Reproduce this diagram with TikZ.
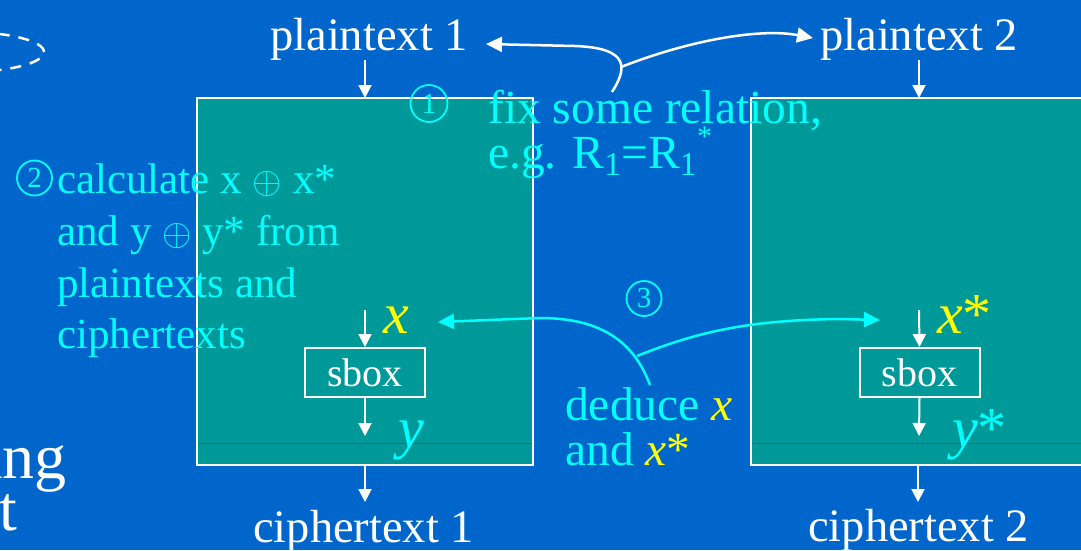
\RequirePackage{fix-cm}
\documentclass[tikz,border=0pt]{standalone}
\usepackage{fontspec}
\setmainfont{Liberation Serif}
\usetikzlibrary{arrows.meta}
\definecolor{bgblue}{HTML}{0066CC}
\definecolor{boxteal}{HTML}{009999}
\definecolor{cyanT}{HTML}{00FFFF}
\definecolor{yel}{HTML}{FFFF00}
\newcommand{\xor}{\scalebox{1.35}{\fontsize{28}{28}\selectfont$\oplus$}}
\begin{document}
\begin{tikzpicture}[x=1pt,y=-1pt,
  lbl/.style={inner sep=0pt, anchor=base west, text=white, font=\fontsize{46.5}{55}\selectfont},
  ctext/.style={lbl, text=cyanT, font=\fontsize{47.5}{55}\selectfont},
  side/.style={lbl, text=cyanT, font=\fontsize{43}{50}\selectfont},
  circ/.style={circle, draw=cyanT, line width=1.8pt, text=cyanT, inner sep=0pt,
    minimum size=35pt, font=\fontsize{29}{29}\selectfont},
  var/.style={inner sep=0pt, anchor=base west, font=\fontsize{58}{60}\selectfont\itshape},
  encbox/.style={fill=boxteal, draw=white, line width=2pt},
  sboxnode/.style={draw=white, line width=2pt, minimum width=120pt, minimum height=49pt,
    inner sep=0pt, text=white, font=\fontsize{40}{48}\selectfont},
  arr/.style={draw=white, line width=2pt, -{Triangle[width=13pt,length=13pt]}},
  warr/.style={draw=white, line width=2.5pt, -{Triangle[width=15pt,length=16pt]}},
  carr/.style={draw=cyanT, line width=2.5pt, -{Triangle[width=15pt,length=16pt]}},
  sep/.style={draw=bgblue, line width=0.8pt}]
\useasboundingbox (0,0) rectangle (1081,550);
\clip (0,0) rectangle (1081,550);
\fill[bgblue] (0,0) rectangle (1081,550);

% leftovers at the slide edge
\draw[white, line width=2.5pt, dash pattern=on 11pt off 9pt] (-35,52) ellipse [x radius=79pt, y radius=20pt];
\node[lbl, anchor=base east, font=\fontsize{64}{64}\selectfont] (ng) at (67,478) {ing};
\node[lbl, anchor=base east, font=\fontsize{64}{64}\selectfont] (tt) at (17,530) {t};

% the two encryption boxes
\path[encbox] (197,98) rectangle (533,465);
\path[encbox] (751,98) rectangle (1095,465);
\coordinate (b1n) at (365,98);  \coordinate (b1s) at (365,466);
\coordinate (b2n) at (919,98);  \coordinate (b2s) at (918,466);
\draw[sep] (198,443) -- (532,443);
\draw[sep] (752,443) -- (1095,443);

% plaintexts and ciphertexts
\node[lbl] (p1) at (270,50) {plaintext 1};
\node[lbl] (p2) at (820,50) {plaintext 2};
\node[lbl] (c1) at (253,542) {ciphertext 1};
\node[lbl] (c2) at (808,541) {ciphertext 2};
\coordinate (p1a) at (365,60);
\coordinate (p2a) at (919,60);
\coordinate (c1a) at (365,502);
\coordinate (c2a) at (918,502);
\draw[arr] (p1a) -- (b1n);
\draw[arr] (p2a) -- (b2n);
\draw[arr] (b1s) -- (c1a);
\draw[arr] (b2s) -- (c2a);

% sboxes
\node[sboxnode] (s1) at (365,372.5) {sbox};
\node[sboxnode] (s2) at (919.5,372.5) {sbox};
\coordinate (s1in) at (365,310);  \coordinate (s1out) at (365,436);
\coordinate (s2in) at (919,310);  \coordinate (s2out) at (919,436);
\draw[arr] (s1in) -- (s1.north);
\draw[arr] (s1.south) -- (s1out);
\draw[arr] (s2in) -- (s2.north);
\draw[arr] (s2.south) -- (s2out);
\node[var, text=yel] (x1) at (383,333) {x};
\node[var, text=cyanT] (y1) at (398,447) {y};
\node[var, text=yel] (x2) at (937,333) {x\upshape*};
\node[var, text=cyanT] (y2) at (952,447) {y\upshape*};

% step 1
\node[circ, minimum size=37pt] (n1) at (429,103.5) {1};
\node[ctext] (f1) at (488,123) {fix some relation,};
\node[ctext] (f2) at (488,168) {e.g. R\textsubscript{1}=R\textsubscript{1}\raisebox{0.45em}{\fontsize{30}{30}\selectfont *}};
\coordinate (st1) at (612,92);
\coordinate (br1) at (621,67);
\coordinate (t1) at (486,44);
\coordinate (t2) at (813,38);
\draw[warr] (st1) .. controls (626,70) and (632,48) .. (575,46) -- (t1);
\draw[warr] (br1) .. controls (690,40) and (760,28) .. (t2);

% step 2
\node[circ] (n2) at (34.5,178) {2};
\node[side] (l1) at (57,193) {calculate x \xor{} x*};
\node[side] (l2) at (57,245) {and y \xor{} y* from};
\node[side] (l3) at (57,297) {plaintexts and};
\node[side] (l4) at (57,348) {ciphertexts};

% step 3
\node[circ] (n3) at (644,298.5) {3};
\node[ctext] (d1) at (565,420) {deduce {\itshape\color{yel}x}};
\node[ctext] (d2) at (565,465) {and {\itshape\color{yel}x}{\color{yel}*}};
\coordinate (st2) at (650,385);
\coordinate (br2) at (637,356);
\coordinate (tl) at (438,322);
\coordinate (tr) at (880,320);
\draw[carr] (st2) .. controls (635,345) and (605,318) .. (540,318) -- (tl);
\draw[carr] (br2) .. controls (690,335) and (740,320) .. (840,319) -- (tr);
\end{tikzpicture}
\end{document}
